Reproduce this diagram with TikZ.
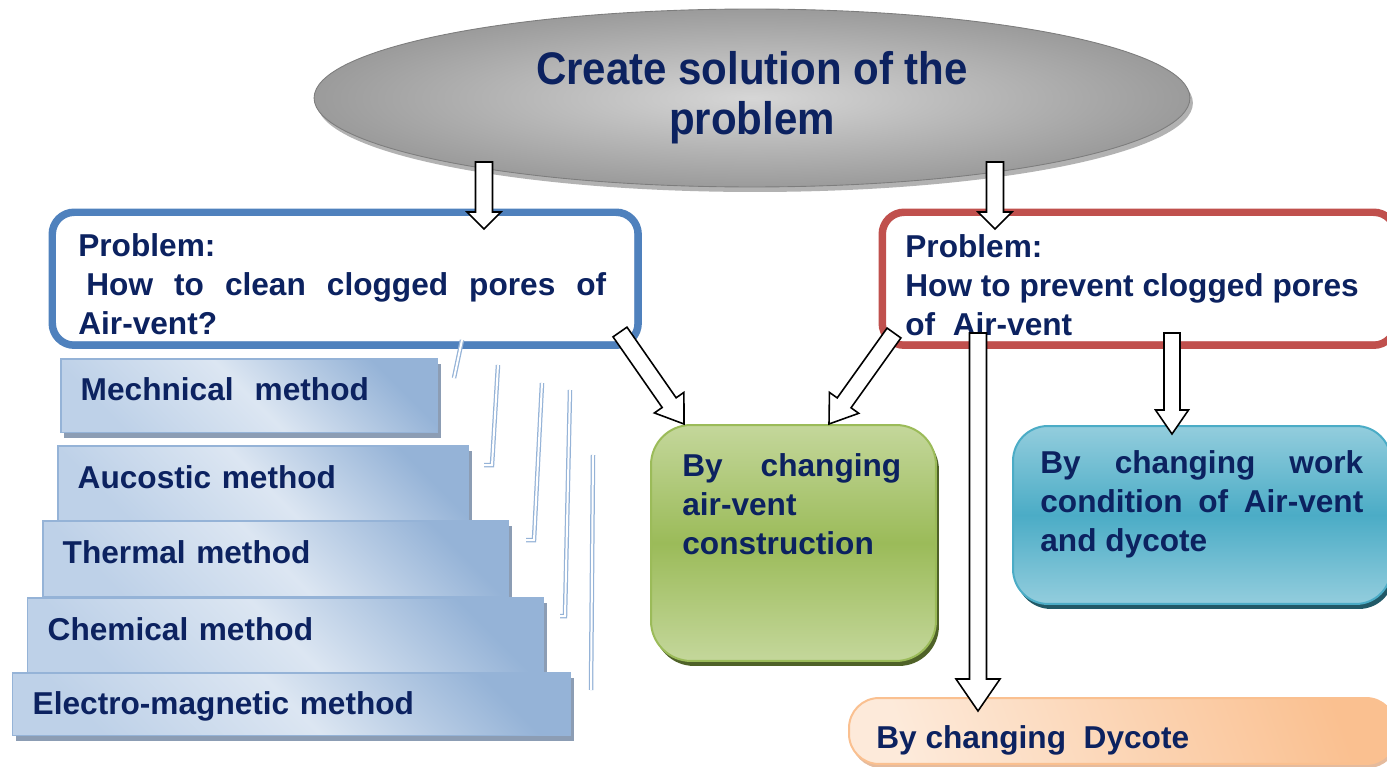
\documentclass[tikz,border=0pt]{standalone}
\usepackage{fontspec}
\setmainfont{Liberation Sans}
\newfontfamily\titlefont[FakeStretch=0.92]{Liberation Sans}
\usetikzlibrary{shapes.geometric,shadows,calc}

\definecolor{navy}{RGB}{12,34,96}
\definecolor{probblue}{RGB}{79,129,189}
\definecolor{probred}{RGB}{192,80,77}
\definecolor{grn}{RGB}{155,187,89}
\definecolor{grnlt}{RGB}{196,215,155}
\definecolor{grndk}{RGB}{79,98,40}
\definecolor{tealmid}{RGB}{75,172,198}
\definecolor{teallt}{RGB}{147,205,221}
\definecolor{tealdk}{RGB}{33,89,103}
\definecolor{peach}{RGB}{253,234,218}
\definecolor{orng}{RGB}{250,192,144}
\definecolor{orngdk}{RGB}{222,170,132}
\definecolor{stairdk}{RGB}{149,179,215}
\definecolor{stairmid}{RGB}{190,209,232}
\definecolor{stairlt}{RGB}{220,230,242}
\definecolor{stairsh}{RGB}{140,157,180}
\definecolor{elldk}{RGB}{155,155,155}
\definecolor{elllt}{RGB}{214,214,214}
\definecolor{ellline}{RGB}{125,125,125}

% block arrow: from, to, half shaft, half head, head length
\newcommand\blockarrow[5]{%
  \draw[blockarr] ($(#1)!#3!-90:(#2)$) -- ($(#2)!#5!(#1)!#3!90:(#1)$)
    -- ($(#2)!#5!(#1)!#4!90:(#1)$) -- (#2) -- ($(#2)!#5!(#1)!#4!-90:(#1)$)
    -- ($(#2)!#5!(#1)!#3!-90:(#1)$) -- ($(#1)!#3!90:(#2)$) -- cycle;}

\begin{document}
\begin{tikzpicture}[x=0.02cm, y=-0.02cm,
    txt/.style={font=\fontsize{18pt}{22.2pt}\selectfont\bfseries, text=navy,
      inner sep=0pt, align=left, anchor=north west},
    probbox/.style={draw=#1, line width=0.15cm, rounded corners=0.44cm,
      fill=white, anchor=north west, inner sep=0pt},
    probline/.style={draw=#1, line width=0.03cm, rounded corners=0.3cm},
    stair/.style={rectangle, draw=stairdk, line width=0.03cm,
      left color=stairmid, right color=stairdk, middle color=stairlt, shading angle=135,
      drop shadow={shadow xshift=0.06cm, shadow yshift=-0.1cm, fill=stairsh, opacity=1},
      anchor=north west, inner xsep=0.4cm, text height=0.46cm, text depth=0.26cm,
      align=left, text=navy, font=\fontsize{18pt}{22.2pt}\selectfont\bfseries},
    colbox/.style n args={3}{draw=#2, line width=0.04cm,
      top color=#1, bottom color=#1, middle color=#2,
      drop shadow={shadow xshift=0.06cm, shadow yshift=-0.1cm, fill=#3, opacity=1},
      anchor=north west, inner sep=0pt},
    blockarr/.style={draw=black, fill=white, line width=0.9pt, line join=miter},
    brack/.style={draw=stairdk, double=white, double distance=0.04cm, line width=0.025cm}]
\useasboundingbox (0,0) rectangle (1387,767);

\node[ellipse, draw=ellline, line width=0.5pt, inner color=elllt, outer color=elldk,
  drop shadow={shadow xshift=0.06cm, shadow yshift=-0.1cm, fill=black, opacity=0.3},
  minimum width=17.52cm, minimum height=3.56cm, inner sep=0pt, align=center, text=navy,
  font=\titlefont\fontsize{26pt}{28.5pt}\selectfont\bfseries]
  (root) at (752,98) {Create solution of the\\problem};

% the two problems
\node[probbox=probblue, minimum width=11.72cm, minimum height=2.66cm] (probL) at (48.5,208.5) {};
\draw[probline=probblue] ($(probL.north west)+(6.5,6.5)$) rectangle ($(probL.south east)+(-6.5,-6.5)$);
\node[txt] (probL-txt) at (78,233)
  {Problem:\\\hspace*{0.16cm}\makebox[10.4cm][s]{How to clean clogged pores of}\\Air-vent?};

\node[probbox=probred, minimum width=10.27cm, minimum height=2.66cm] (probR) at (878.5,208.5) {};
\draw[probline=probred] ($(probR.north west)+(6.5,6.5)$) rectangle ($(probR.south east)+(-6.5,-6.5)$);
\node[txt] (probR-txt) at (905,234) {Problem:\\How to prevent clogged pores\\of\ \ Air-vent};

% cleaning methods
\node[stair, text width=6.74cm, minimum height=1.48cm] (mech) at (60,358) {Mechnical\ \ method};
\node[stair, text width=7.42cm, minimum height=1.5cm] (acou) at (57,445) {Aucostic method};
\node[stair, text width=8.52cm, minimum height=1.52cm] (therm) at (42,520) {Thermal method};
\node[stair, text width=9.52cm, minimum height=1.5cm] (chem) at (27,597) {Chemical method};
\node[stair, text width=10.36cm, text depth=0.06cm, minimum height=1.26cm] (elec) at (12,672) {Electro-magnetic method};

\draw[brack] (462,340) -- (454,378);
\draw[brack] (498,365) -- (492,465) -- (484,465);
\draw[brack] (542,383) -- (534,540) -- (526,540);
\draw[brack] (570,390) -- (565,616) -- (560,616);
\draw[brack] (593,455) -- (591,690);

% preventing
\node[colbox={grnlt}{grn}{grndk}, rounded corners=0.8cm,
  minimum width=5.7cm, minimum height=4.72cm] (constr) at (650,424) {};
\node[txt] (constr-txt) at (682,453) {\makebox[4.38cm][s]{By changing}\\air-vent\\construction};

\node[colbox={teallt}{tealmid}{tealdk}, rounded corners=0.7cm,
  minimum width=7.56cm, minimum height=3.56cm] (work) at (1012,425) {};
\node[txt] (work-txt) at (1040,450)
  {\makebox[6.46cm][s]{By changing work}\\\makebox[6.46cm][s]{condition of Air-vent}\\and dycote};

\node[draw=orng, line width=0.04cm, left color=peach, right color=orng, shading angle=110,
  drop shadow={shadow xshift=0.04cm, shadow yshift=-0.08cm, fill=orngdk, opacity=0.8},
  rounded corners=0.6cm, anchor=north west, inner sep=0pt,
  minimum width=10.94cm, minimum height=1.32cm] (dycote) at (848,697) {};
\node[txt] (dycote-txt) at (876,725) {By changing\ \ Dycote};

% arrows
\coordinate (rootL) at (484,162);
\coordinate (probL-in) at (484,229);
\coordinate (rootR) at (995,162);
\coordinate (probR-in) at (995,229);
\coordinate (probL-out) at (620,332);
\coordinate (constr-inL) at (684,424);
\coordinate (probR-outL) at (894,333);
\coordinate (constr-inR) at (829,424);
\coordinate (probR-outM) at (978,333);
\coordinate (dycote-in) at (978,711);
\coordinate (probR-outR) at (1172,333);
\coordinate (work-in) at (1172,434);

\blockarrow{rootL}{probL-in}{0.17cm}{0.34cm}{0.34cm}
\blockarrow{rootR}{probR-in}{0.17cm}{0.34cm}{0.34cm}
\blockarrow{probL-out}{constr-inL}{0.17cm}{0.36cm}{0.52cm}
\blockarrow{probR-outL}{constr-inR}{0.17cm}{0.36cm}{0.52cm}
\blockarrow{probR-outM}{dycote-in}{0.17cm}{0.44cm}{0.64cm}
\blockarrow{probR-outR}{work-in}{0.16cm}{0.33cm}{0.48cm}
\end{tikzpicture}
\end{document}
